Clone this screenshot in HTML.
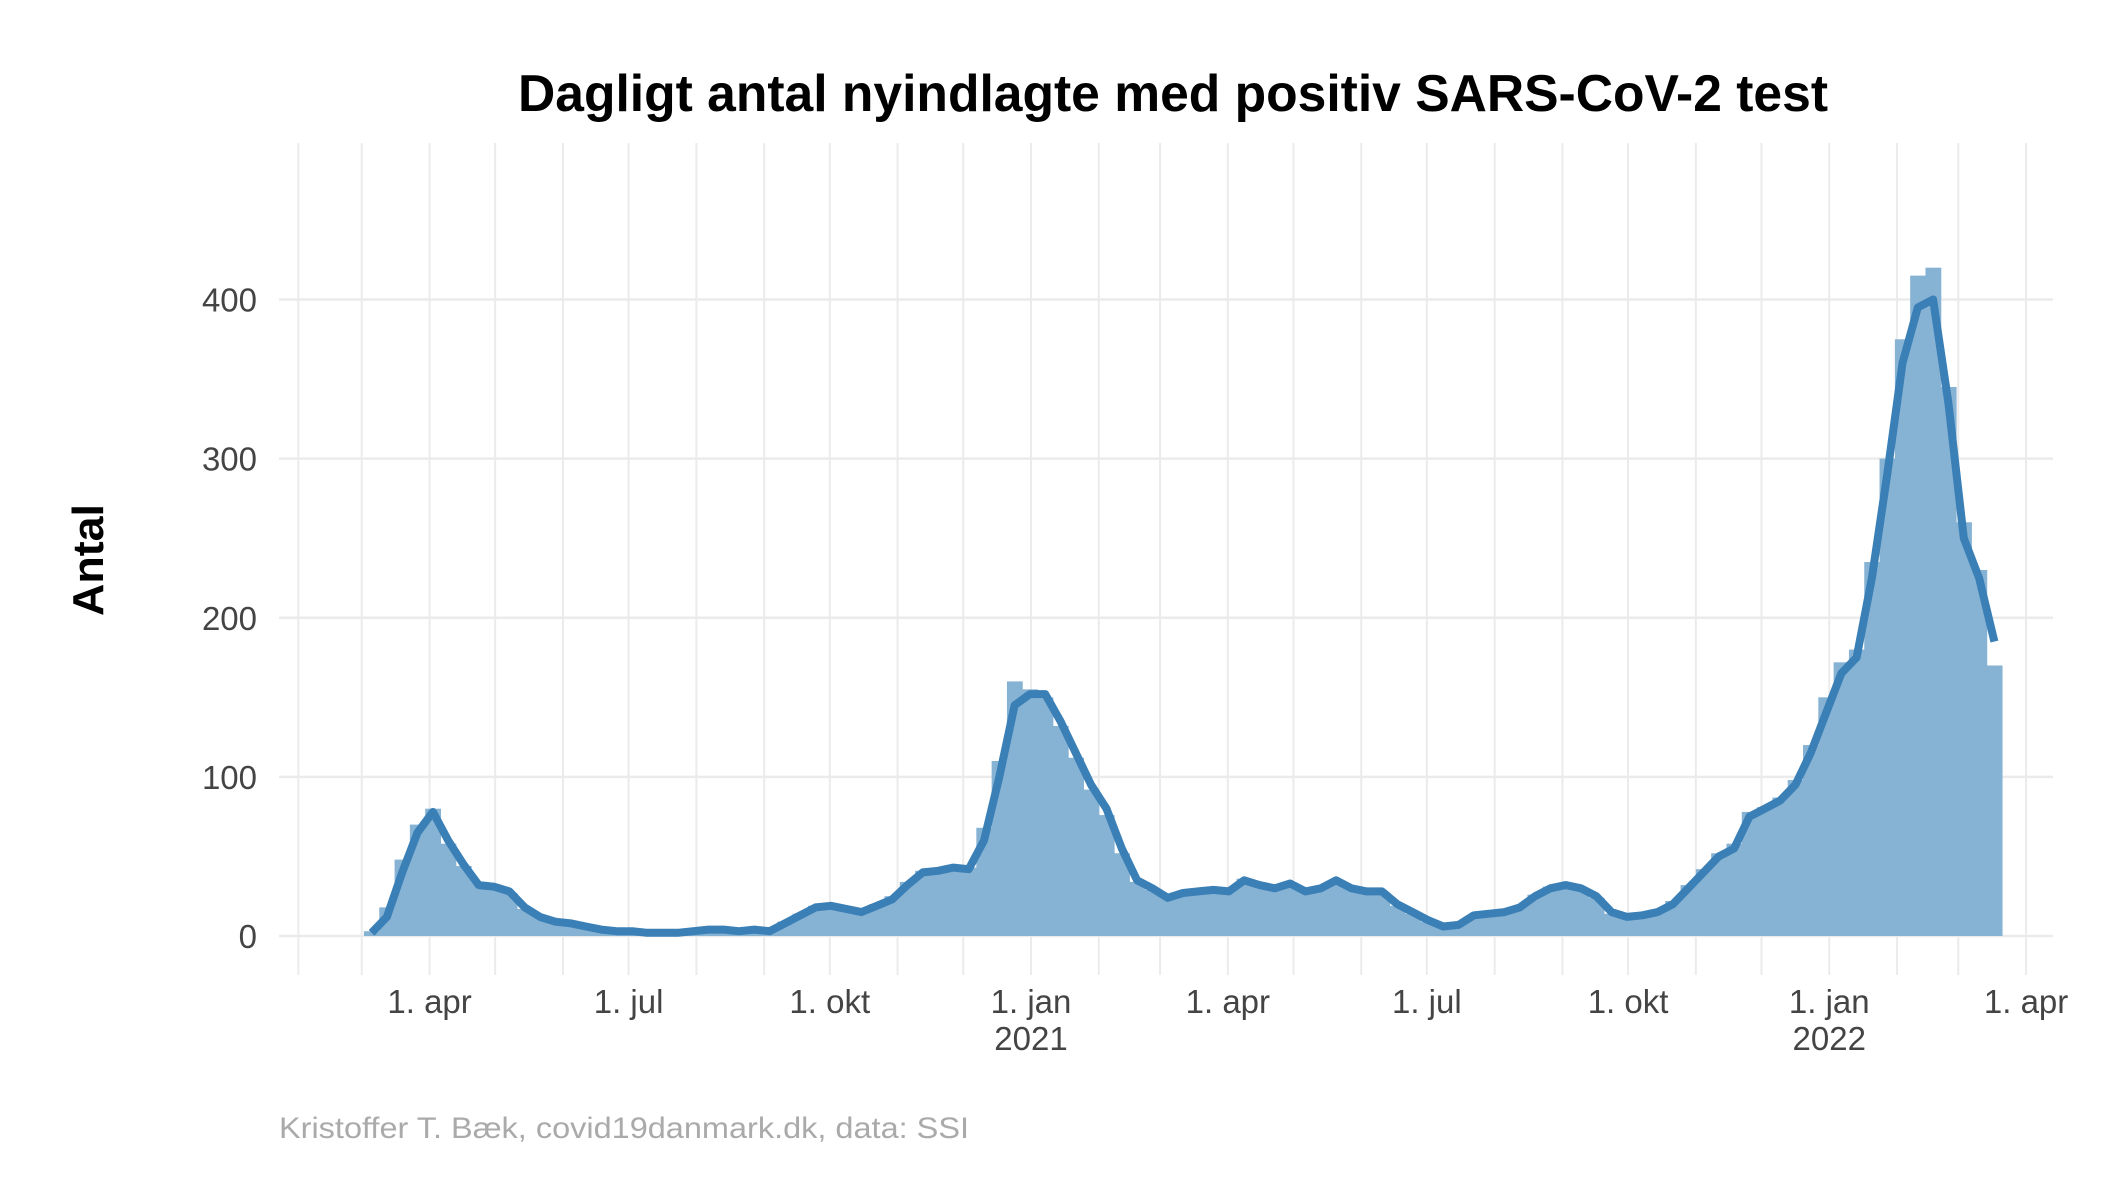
<!DOCTYPE html>
<html><head><meta charset="utf-8"><style>
html,body{margin:0;padding:0;background:#fff;}
svg{display:block;font-family:"Liberation Sans",sans-serif;}
</style></head><body>
<svg id="chart" width="2125" height="1181" viewBox="0 0 2125 1181">
<text x="1173" y="111" text-anchor="middle" font-size="52" font-weight="bold" fill="#000" textLength="1310" lengthAdjust="spacingAndGlyphs">Dagligt antal nyindlagte med positiv SARS-CoV-2 test</text>
<g id="grid"></g>
<g id="bars"></g>
<g id="line"></g>
<g id="axes"></g>
<text transform="translate(103,560) rotate(-90)" text-anchor="middle" font-size="44" font-weight="bold" fill="#000" textLength="112" lengthAdjust="spacingAndGlyphs">Antal</text>
<text x="279" y="1138" font-size="30" fill="#aaaaaa" textLength="690" lengthAdjust="spacingAndGlyphs">Kristoffer T. Bæk, covid19danmark.dk, data: SSI</text>
</svg>
<script>
// weekly values starting Monday 2 March 2020
const startDate = "2020-03-02";
const lineValues = [2,12,40,65,78,60,45,32,31,28,18,12,9,8,6,4,3,3,2,2,2,3,4,4,3,4,3,8,13,18,19,17,15,19,23,32,40,41,43,42,60,100,145,152,
152,135,115,95,80,55,35,30,24,27,28,29,28,35,32,30,33,28,30,35,30,28,28,20,15,10,6,7,13,14,15,18,25,30,32,30,25,15,12,13,15,20,30,40,50,55,75,80,85,95,115,140,
165,175,225,290,360,395,400,335,250,225,185];
const barValues = [3,18,48,70,80,58,44,34,30,27,17,12,9,8,6,4,3,3,2,2,2,3,4,4,3,4,3,9,14,19,19,17,16,20,25,34,41,42,44,43,68,110,160,155,
150,132,112,92,76,52,34,29,25,27,28,29,30,36,31,30,33,28,31,35,30,28,27,19,14,9,6,8,13,14,15,19,26,31,32,29,24,14,12,13,16,22,32,42,52,58,78,81,87,98,120,150,
172,180,235,300,375,415,420,345,260,230,170];
const yTicks = [0,100,200,300,400];
const xTickDates = ["2020-04-01","2020-07-01","2020-10-01","2021-01-01","2021-04-01","2021-07-01","2021-10-01","2022-01-01","2022-04-01"];
const xTickLabels = ["1. apr","1. jul","1. okt","1. jan\n2021","1. apr","1. jul","1. okt","1. jan\n2022","1. apr"];

const NS="http://www.w3.org/2000/svg";
const DAY=86400000, ORIGIN=Date.UTC(2021,0,1);
function dayNum(s){const p=s.split("-");return (Date.UTC(+p[0],+p[1]-1,+p[2])-ORIGIN)/DAY;}
function xScale(d){return 1031+d*2.187;}
function yScale(v){return 936-v*(636.5/400);}
function mk(tag,attrs,parent){const e=document.createElementNS(NS,tag);for(const k in attrs)e.setAttribute(k,attrs[k]);parent.appendChild(e);return e;}
const grid=document.getElementById("grid"),barsG=document.getElementById("bars"),lineG=document.getElementById("line"),axes=document.getElementById("axes");
const X0=279,X1=2053,YT=143,YB=975;
for(let y=2020;y<=2022;y++)for(let m=0;m<12;m++){
  const d=(Date.UTC(y,m,1)-ORIGIN)/DAY; const x=xScale(d);
  if(x<X0+10||x>X1) continue;
  const l=mk("line",{x1:x,x2:x,y1:YT,y2:YB,stroke:"#ebebeb","stroke-width":2},grid);
  
  
}
yTicks.forEach(v=>{
  const y=yScale(v);
  const l=mk("line",{x1:X0,x2:X1,y1:y,y2:y,stroke:"#ebebeb","stroke-width":2.5},grid);
  
  
  const t=mk("text",{x:257,y:y+12,"text-anchor":"end","font-size":33,fill:"#444"},axes);
  t.textContent=v;
  
  
});
xTickDates.forEach((ds,i)=>{
  const x=xScale(dayNum(ds));
  const parts=xTickLabels[i].split("\n");
  parts.forEach((p,j)=>{
    const t=mk("text",{x:x,y:1013+j*37,"text-anchor":"middle","font-size":33,fill:"#444"},axes);
    t.textContent=p;
    
    
  });
});
const s0=dayNum(startDate);
barValues.forEach((v,i)=>{
  const xa=xScale(s0+i*7), xb=xScale(s0+i*7+7);
  const r=mk("rect",{x:xa,y:yScale(v),width:xb-xa+0.5,height:yScale(0)-yScale(v),fill:"#86b2d4"},barsG);
  
  
});
const pts=lineValues.map((v,i)=>xScale(s0+i*7+3.5).toFixed(1)+","+yScale(v).toFixed(1));
const pl=mk("polyline",{points:pts.join(" "),fill:"none",stroke:"#3a7fb5","stroke-width":8,"stroke-linejoin":"round"},lineG);


</script>
</body></html>
